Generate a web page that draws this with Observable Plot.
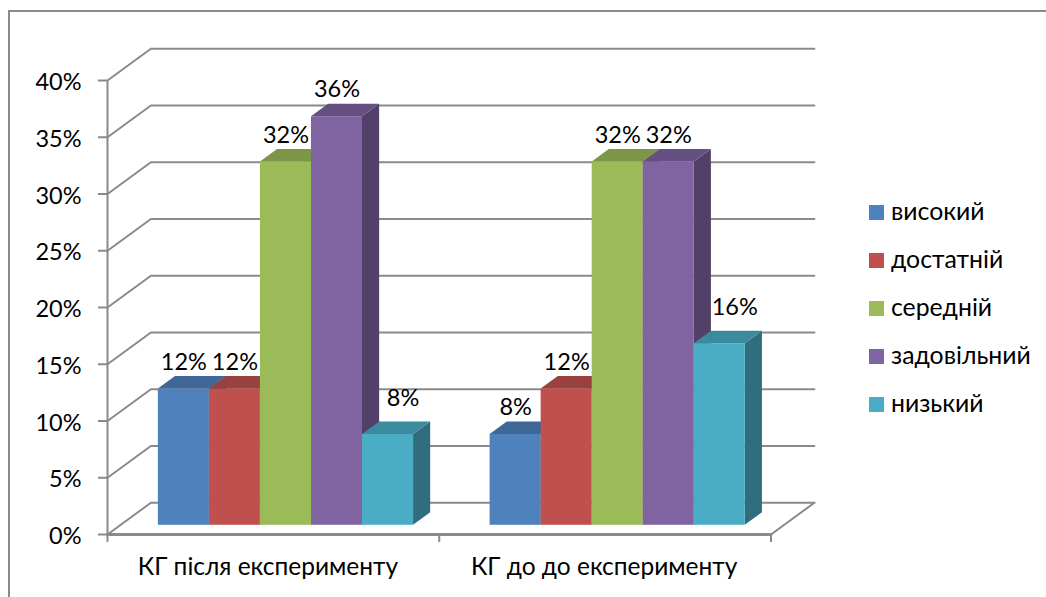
<!DOCTYPE html>
<html lang="uk">
<head>
<meta charset="utf-8">
<script src="https://cdn.jsdelivr.net/npm/d3@7"></script>
<script src="https://cdn.jsdelivr.net/npm/@observablehq/plot@0.6"></script>
<style>
  html, body { margin: 0; padding: 0; background: #fff; overflow: hidden; }
  #chart { position: relative; width: 1046px; height: 597px; font-family: Lato, sans-serif; }
  #chart svg { position: absolute; left: 0; top: 0; background: transparent; }
  #outline { position: absolute; left: 8px; top: 10px; right: -4px; bottom: -4px; border: 2px solid #8a8a8a; }
  #legend { position: absolute; left: 869px; top: 188px; color: #000; font-size: 24.8px; }
  .entry { display: flex; align-items: center; height: 48px; }
  .swatch { width: 15px; height: 15px; margin-right: 7px; }
  .entry .name { position: relative; top: -2px; }
</style>
</head>
<body>
<div id="chart"><div id="outline"></div></div>
<script>
// Share of students per achievement level, in percent
const categories = ["КГ після експерименту", "КГ до до експерименту"];
const levels = ["високий", "достатній", "середній", "задовільний", "низький"];
const colors = ["#4F81BD", "#C0504D", "#9BBB59", "#8064A2", "#4BACC6"];
const afterValues = [12, 12, 32, 36, 8];
const beforeValues = [8, 12, 32, 32, 16];
const series = [afterValues, beforeValues];
const yTicks = [0, 5, 10, 15, 20, 25, 30, 35, 40];

// Oblique projection: x counts bar widths along the floor, z runs 0..1 from
// the front edge of the floor to the back wall.
const groupWidth = 6.5;
const gapWidth = 0.75;
const xMax = groupWidth * categories.length;
const depthX = 0.85;   // bar widths of shift at full depth
const depthY = 2.8;    // percentage points of rise at full depth
const barFront = 0.29;
const barBack = 0.685;
const px = (x, z) => x + z * depthX;
const py = (v, z) => v + z * depthY;

const shade = (color, k) => {
  const c = d3.rgb(color);
  return d3.rgb(c.r * k, c.g * k, c.b * k).formatHex();
};

const bars = series.flatMap((values, g) => values.map((value, i) => {
  const x0 = gapWidth + g * groupWidth + i;
  return {value, i, g, x0, x1: x0 + 1, color: colors[i]};
}));

// Wall gridlines: up the left wall to the back, then along the back wall
const grid = yTicks.flatMap(v => [
  {v, x: 0, z: 0},
  {v, x: 0, z: 1},
  {v, x: xMax, z: 1}
]);
const floorEdge = [{x: xMax, z: 0}, {x: xMax, z: 1}];
const frontEdge = [{x: 0, v: 0}, {x: xMax, v: 0}];
const categoryEdges = d3.range(categories.length + 1).map(k => k * groupWidth);

const barMarks = bars.flatMap(b => {
  const side = [barFront, barBack].map(z => ({
    x: px(b.x1, z), low: py(0, z), high: py(b.value, z)
  }));
  const top = [b.x0, b.x1].map(x => ({
    x1: px(x, barFront), y1: py(b.value, barFront),
    x2: px(x, barBack), y2: py(b.value, barBack)
  }));
  return [
    Plot.area(side, {x1: "x", x2: "x", y1: "low", y2: "high", fill: shade(b.color, 0.64), curve: "linear"}),
    Plot.area(top, {x1: "x1", y1: "y1", x2: "x2", y2: "y2", fill: shade(b.color, 0.8), curve: "linear"}),
    Plot.rect([b], {
      x1: d => px(d.x0, barFront), x2: d => px(d.x1, barFront),
      y1: () => py(0, barFront), y2: d => py(d.value, barFront),
      fill: b.color
    })
  ];
});

const labelText = d => d.value + "%";
const labelX = d => px((d.x0 + d.x1) / 2, barFront);
const labelY = d => py(d.value, barFront);
const numberSize = 23.5;
const wordSize = 24.5;
// The last series' labels sit out over the side face of the bar
const isShifted = d => d.i === 4;
// Category captions are set slightly left of their group's centre
const captionShift = [-5.5, -1];

const plot = Plot.plot({
  width: 1046,
  height: 597,
  marginLeft: 107,
  marginRight: 275.5,
  marginTop: 80,
  marginBottom: 63,
  x: {type: "linear", domain: [0, xMax], axis: null},
  y: {type: "linear", domain: [0, 40], axis: null},
  style: {fontFamily: "Lato, sans-serif", background: "transparent"},
  marks: [
    Plot.line(grid, {
      x: d => px(d.x, d.z), y: d => py(d.v, d.z), z: "v",
      stroke: "#8a8a8a", strokeWidth: 2, curve: "linear"
    }),
    Plot.line(floorEdge, {
      x: d => px(d.x, d.z), y: d => py(0, d.z),
      stroke: "#8a8a8a", strokeWidth: 2
    }),
    Plot.axisY(yTicks, {
      anchor: "left", label: null, tickSize: 9,
      tickFormat: () => "", stroke: "#8a8a8a", strokeWidth: 2
    }),
    Plot.text(yTicks, {
      x: () => 0, y: d => d, text: d => d + "%", dx: -26, dy: 2,
      textAnchor: "end", fontSize: numberSize, fill: "#000"
    }),
    Plot.ruleX([0], {y1: () => 0, y2: () => 40, stroke: "#8a8a8a", strokeWidth: 2}),
    Plot.line(frontEdge, {x: "x", y: "v", stroke: "#8a8a8a", strokeWidth: 3}),
    Plot.ruleX(categoryEdges, {y1: () => 0, y2: () => -0.7, stroke: "#8a8a8a", strokeWidth: 2}),
    ...barMarks,
    Plot.text(bars.filter(d => !isShifted(d)), {
      x: labelX, y: labelY, text: labelText, dy: -27, fontSize: numberSize, fill: "#000"
    }),
    Plot.text(bars.filter(isShifted), {
      x: labelX, y: labelY, text: labelText, dx: 15, dy: -36, fontSize: numberSize, fill: "#000"
    }),
    ...categories.map((name, i) => Plot.text([name], {
      x: () => (i + 0.5) * groupWidth, y: () => 0, text: d => d,
      dx: captionShift[i], dy: 33, fontSize: wordSize, fill: "#000"
    }))
  ]
});
document.getElementById("chart").appendChild(plot);

// Legend for the five achievement levels
const legend = document.createElement("div");
legend.id = "legend";
levels.forEach((level, i) => {
  const entry = document.createElement("div");
  entry.className = "entry";
  const swatch = document.createElement("span");
  swatch.className = "swatch";
  swatch.style.background = colors[i];
  const label = document.createElement("span");
  label.className = "name";
  label.textContent = level;
  entry.append(swatch, label);
  legend.appendChild(entry);
});
document.getElementById("chart").appendChild(legend);
</script>
</body>
</html>
